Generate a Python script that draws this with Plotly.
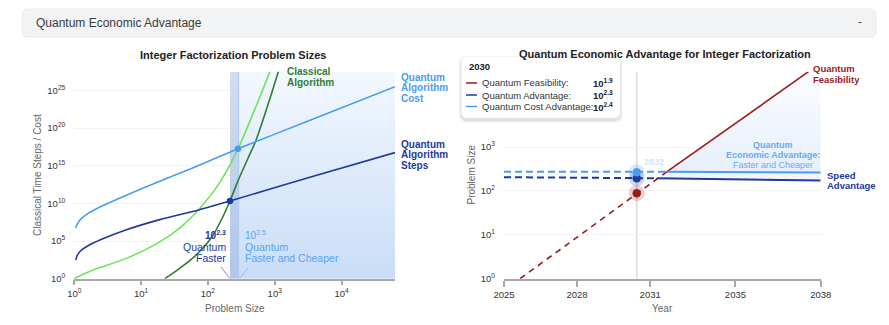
import plotly.graph_objects as go

W, H = 889, 325
FONT = "Liberation Sans, Arial, sans-serif"

def px(x):
    return x / W

def py(y):
    return 1 - y / H

# ---------------- Left chart data (log10 exponents) -------------
cost_lx = [0.02, 0.05, 0.1, 0.2, 0.4, 0.78, 1.28, 1.70, 2.45, 3.5, 4.8]
cost_ly = [6.75, 7.35, 7.95, 8.65, 9.6, 11.1, 12.95, 14.45, 17.25, 20.95, 25.5]

steps_lx = [0.02, 0.05, 0.1, 0.2, 0.4, 0.78, 1.28, 1.85, 2.33, 3.5, 4.8]
steps_ly = [2.5, 3.2, 3.75, 4.35, 5.2, 6.5, 7.85, 9.1, 10.33, 13.4, 16.75]

cls_cost_lx = [0.0, 0.03, 0.28, 0.78, 1.28, 1.6, 1.85, 2.05, 2.2, 2.45, 2.67, 2.95]
cls_cost_ly = [0.0, 0.15, 1.16, 2.7, 4.9, 6.9, 9.05, 11.2, 13.1, 17.25, 21.8, 28.0]

cls_steps_lx = [1.354, 1.55, 1.78, 1.95, 2.07, 2.2, 2.33, 2.45, 2.6, 2.72, 2.88, 3.04, 3.1]
cls_steps_ly = [0.0, 1.2, 2.8, 4.3, 5.7, 7.8, 10.33, 13.0, 16.0, 18.4, 22.6, 27.1, 29.0]

faster_lx = 2.33       # quantum faster threshold (10^2.3)
cheaper_lx = 2.46      # quantum faster and cheaper threshold (10^2.5)
faster_ly = 10.33
cheaper_ly = 17.25

left_xticks = [0, 1, 2, 3, 4]
left_yticks = [0, 5, 10, 15, 20, 25]
left_xrange = [0, 4.8]
left_yrange = [0, 27.5]

# ---------------- Right chart data ----------------
feas_years = [2025.66, 2031.69, 2037.5]
feas_ly = [0.0, 2.44, 4.72]

adv_years = [2025, 2030.45, 2031.27, 2038]
adv_ly = [2.315, 2.29, 2.29, 2.24]

costadv_years = [2025, 2030.45, 2031.69, 2038]
costadv_ly = [2.44, 2.43, 2.44, 2.42]

sel_year = 2030.45
sel_feas_ly = 1.95
sel_adv_ly = 2.29
sel_cost_ly = 2.43

right_xticks = [2025, 2028, 2031, 2034.5, 2038]
right_xticktext = ["2025", "2028", "2031", "2035", "2038"]
right_yticks = [0, 1, 2, 3]
right_yrange = [0, 4.72]

legend_title = "2030"
legend_labels = ["Quantum Feasibility:", "Quantum Advantage:", "Quantum Cost Advantage:"]
legend_values = ["1.9", "2.3", "2.4"]

C_COST = "#4a9cf0"
C_STEPS = "#1e3a9a"
C_LGREEN = "#6ee55a"
C_DGREEN = "#2f7d32"
C_RED = "#9b1c1c"
C_AXIS = "#a8a8a8"

def p10(arr):
    return [10.0 ** float(v) for v in arr]

fig = go.Figure()

# ---------- Left chart ----------
xa, ya = "x", "y"
fig.add_trace(go.Scatter(
    x=p10([faster_lx, left_xrange[1], left_xrange[1], faster_lx, faster_lx]),
    y=p10([left_yrange[0], left_yrange[0], left_yrange[1], left_yrange[1], left_yrange[0]]),
    fill="toself", mode="none",
    fillgradient=dict(type="vertical", colorscale=[[0, "#c9ddf7"], [1, "#f3f8fe"]]),
    hoverinfo="skip", showlegend=False, xaxis=xa, yaxis=ya))
fig.add_trace(go.Scatter(
    x=p10([faster_lx, cheaper_lx, cheaper_lx, faster_lx, faster_lx]),
    y=p10([left_yrange[0], left_yrange[0], left_yrange[1], left_yrange[1], left_yrange[0]]),
    fill="toself", mode="none", fillcolor="rgba(40,60,160,0.15)",
    hoverinfo="skip", showlegend=False, xaxis=xa, yaxis=ya))
fig.add_trace(go.Scatter(
    x=p10([cheaper_lx, cheaper_lx]), y=p10(left_yrange), mode="lines",
    line=dict(color="#a9cbf3", width=1), hoverinfo="skip", showlegend=False, xaxis=xa, yaxis=ya))

for lx, ly, col in [(cls_cost_lx, cls_cost_ly, C_LGREEN), (cls_steps_lx, cls_steps_ly, C_DGREEN),
                    (cost_lx, cost_ly, C_COST), (steps_lx, steps_ly, C_STEPS)]:
    fig.add_trace(go.Scatter(x=p10(lx), y=p10(ly), mode="lines",
                             line=dict(color=col, width=1.6, shape="spline", smoothing=0.7),
                             hoverinfo="skip", showlegend=False, xaxis=xa, yaxis=ya))

fig.add_trace(go.Scatter(x=p10([faster_lx]), y=p10([faster_ly]), mode="markers",
                         marker=dict(color=C_STEPS, size=6.5), showlegend=False, xaxis=xa, yaxis=ya))
fig.add_trace(go.Scatter(x=p10([2.45]), y=p10([cheaper_ly]), mode="markers",
                         marker=dict(color=C_COST, size=6.5), showlegend=False, xaxis=xa, yaxis=ya))

# ---------- Right chart ----------
xb, yb = "x2", "y2"
fig.add_trace(go.Scatter(
    x=[feas_years[1], feas_years[2], 2038, 2038, feas_years[1]],
    y=p10([feas_ly[1], feas_ly[2], right_yrange[1], costadv_ly[-1], feas_ly[1]]),
    fill="toself", mode="none",
    fillgradient=dict(type="vertical", colorscale=[[0, "#e6effb"], [1, "#fbfdff"]]),
    hoverinfo="skip", showlegend=False, xaxis=xb, yaxis=yb))
fig.add_trace(go.Scatter(
    x=[adv_years[2], 2038, 2038, costadv_years[2], adv_years[2]],
    y=p10([adv_ly[2], adv_ly[3], costadv_ly[3], costadv_ly[2], adv_ly[2]]),
    fill="toself", mode="none", fillcolor="rgba(40,60,160,0.06)",
    hoverinfo="skip", showlegend=False, xaxis=xb, yaxis=yb))

fig.add_trace(go.Scatter(x=feas_years[:2], y=p10(feas_ly[:2]), mode="lines",
                         line=dict(color=C_RED, width=1.6, dash="6px,5px"), hoverinfo="skip",
                         showlegend=False, xaxis=xb, yaxis=yb))
fig.add_trace(go.Scatter(x=feas_years[1:], y=p10(feas_ly[1:]), mode="lines",
                         line=dict(color=C_RED, width=1.6), hoverinfo="skip",
                         showlegend=False, xaxis=xb, yaxis=yb))
fig.add_trace(go.Scatter(x=costadv_years[:3], y=p10(costadv_ly[:3]), mode="lines",
                         line=dict(color=C_COST, width=2, dash="7px,4px"), hoverinfo="skip",
                         showlegend=False, xaxis=xb, yaxis=yb))
fig.add_trace(go.Scatter(x=costadv_years[2:], y=p10(costadv_ly[2:]), mode="lines",
                         line=dict(color=C_COST, width=2), hoverinfo="skip",
                         showlegend=False, xaxis=xb, yaxis=yb))
fig.add_trace(go.Scatter(x=adv_years[:3], y=p10(adv_ly[:3]), mode="lines",
                         line=dict(color=C_STEPS, width=2, dash="7px,4px"), hoverinfo="skip",
                         showlegend=False, xaxis=xb, yaxis=yb))
fig.add_trace(go.Scatter(x=adv_years[2:], y=p10(adv_ly[2:]), mode="lines",
                         line=dict(color=C_STEPS, width=2), hoverinfo="skip",
                         showlegend=False, xaxis=xb, yaxis=yb))

for ly, col in [(sel_feas_ly, C_RED), (sel_adv_ly, C_STEPS), (sel_cost_ly, C_COST)]:
    fig.add_trace(go.Scatter(x=[sel_year], y=p10([ly]), mode="markers",
                             marker=dict(color=col, size=16, opacity=0.2), hoverinfo="skip",
                             showlegend=False, xaxis=xb, yaxis=yb))
for ly, col in [(sel_feas_ly, C_RED), (sel_adv_ly, C_STEPS), (sel_cost_ly, C_COST)]:
    fig.add_trace(go.Scatter(x=[sel_year], y=p10([ly]), mode="markers",
                             marker=dict(color=col, size=8.5), hoverinfo="skip",
                             showlegend=False, xaxis=xb, yaxis=yb))

# ---------- Axes ----------
LD = [px(74.3), px(395)]
RD = [px(504), px(820.7)]
YD = [py(278.7), py(71.7)]
tickfont = dict(family=FONT, size=9.5, color="#333")

fig.update_layout(
    template="none",
    xaxis=dict(domain=LD, type="log", range=left_xrange, automargin=False,
               tickvals=p10(left_xticks), ticktext=[f"10<sup>{v}</sup>" for v in left_xticks],
               showline=True, linecolor=C_AXIS, linewidth=1.5, ticks="outside", ticklen=5,
               tickcolor=C_AXIS, tickwidth=1.5, showgrid=False, zeroline=False, tickfont=tickfont,
               anchor="y"),
    yaxis=dict(domain=YD, type="log", range=left_yrange, automargin=False,
               tickvals=p10(left_yticks), ticktext=[f"10<sup>{v}</sup>" for v in left_yticks],
               showline=False, ticks="", showgrid=True, gridcolor="#f3f3f3", zeroline=False,
               tickfont=tickfont, ticklabelstandoff=8, anchor="x"),
    xaxis2=dict(domain=RD, range=[2025, 2038], tickvals=right_xticks, ticktext=right_xticktext,
                automargin=False,
                showline=True, linecolor=C_AXIS, linewidth=2, ticks="outside", ticklen=6,
                tickcolor=C_AXIS, tickwidth=2, showgrid=False, zeroline=False, tickfont=tickfont,
                anchor="y2"),
    yaxis2=dict(domain=YD, type="log", range=right_yrange, automargin=False,
                tickvals=p10(right_yticks), ticktext=[f"10<sup>{v}</sup>" for v in right_yticks],
                showline=False, ticks="", showgrid=True, gridcolor="#f3f3f3", zeroline=False,
                tickfont=tickfont, ticklabelstandoff=8, anchor="x2"),
    width=W, height=H, margin=dict(l=0, r=0, t=0, b=0, pad=0),
    paper_bgcolor="white", plot_bgcolor="white", showlegend=False,
    font=dict(family=FONT),
)

shapes = []

def rrect_path(x0, y0, x1, y1, r):
    pts = lambda x, y: f"{px(x):.5f},{py(y):.5f}"
    return (f"M {pts(x0 + r, y0)} L {pts(x1 - r, y0)} Q {pts(x1, y0)} {pts(x1, y0 + r)} "
            f"L {pts(x1, y1 - r)} Q {pts(x1, y1)} {pts(x1 - r, y1)} L {pts(x0 + r, y1)} "
            f"Q {pts(x0, y1)} {pts(x0, y1 - r)} L {pts(x0, y0 + r)} Q {pts(x0, y0)} {pts(x0 + r, y0)} Z")

shapes.append(dict(type="path", xref="paper", yref="paper", path=rrect_path(22, 9, 876, 37, 6),
                   fillcolor="#f2f3f5", line=dict(color="#e9eaec", width=1), layer="below"))
shapes.append(dict(type="line", xref="x2", yref="y2 domain", x0=sel_year, x1=sel_year, y0=0, y1=1,
                   line=dict(color="#e2e2e2", width=2), layer="below"))
shapes.append(dict(type="line", xref="paper", yref="paper", x0=px(221), y0=py(267), x1=px(229.5), y1=py(278.3),
                   line=dict(color="#7b8cc7", width=1)))
shapes.append(dict(type="line", xref="paper", yref="paper", x0=px(248.5), y0=py(267), x1=px(240), y1=py(278.3),
                   line=dict(color="#8fc0f2", width=1)))
for i, a in enumerate([0.03, 0.04, 0.05]):
    d = 3 - i
    shapes.append(dict(type="path", xref="paper", yref="paper",
                       path=rrect_path(461.5 - d, 57 - d + 2, 620 + d, 118 + d + 2, 7),
                       fillcolor=f"rgba(0,0,0,{a})", line=dict(width=0), layer="above"))
shapes.append(dict(type="path", xref="paper", yref="paper", path=rrect_path(461.5, 57, 620, 118, 6),
                   fillcolor="white", line=dict(color="#eeeeee", width=0.5), layer="above"))
legend_cols = [C_RED, C_STEPS, C_COST]
row_y = [83, 95, 106.5]
for col, ry in zip(legend_cols, row_y):
    shapes.append(dict(type="line", xref="paper", yref="paper", x0=px(466), x1=px(477), y0=py(ry), y1=py(ry),
                       line=dict(color=col, width=1.5), layer="above"))
fig.update_layout(shapes=shapes)

ann = []

def text(s, x, y, color="#333", size=10, bold=False, xanchor="left", yanchor="middle", angle=0):
    if bold:
        s = f"<b>{s}</b>"
    ann.append(dict(text=s, x=px(x), y=py(y), xref="paper", yref="paper", showarrow=False,
                    xanchor=xanchor, yanchor=yanchor, textangle=angle,
                    font=dict(family=FONT, size=size, color=color)))

def lines(ls, x, y0, dy, **kw):
    for i, s in enumerate(ls):
        text(s, x, y0 + i * dy, **kw)

text("Quantum Economic Advantage", 34, 23, color="#3a3a3a", size=12)
text("-", 860, 22, color="#555", size=12, xanchor="center")
text("Integer Factorization Problem Sizes", 233, 54.5, color="#222", size=11, bold=True, xanchor="center")
text("Quantum Economic Advantage for Integer Factorization", 665, 53.5, color="#222", size=11, bold=True,
     xanchor="center")
text("Problem Size", 235, 308.5, color="#666", size=10, xanchor="center")
text("Year", 662.3, 308.5, color="#666", size=10, xanchor="center")
text("Classical Time Steps / Cost", 37, 175, color="#666", size=10, xanchor="center", angle=-90)
text("Problem Size", 470.5, 175, color="#666", size=10, xanchor="center", angle=-90)

lines(["Classical", "Algorithm"], 285, 71.5, 11, color=C_DGREEN, size=10, bold=True)
lines(["Quantum", "Algorithm", "Cost"], 399, 77, 10.5, color=C_COST, size=10, bold=True)
lines(["Quantum", "Algorithm", "Steps"], 399, 144, 10.5, color=C_STEPS, size=10, bold=True)
text("10<sup>2.3</sup>", 228, 235, color=C_STEPS, size=10, bold=True, xanchor="right")
lines(["Quantum", "Faster"], 228, 247.3, 11, color=C_STEPS, size=10.5, xanchor="right")
text("10<sup>2.5</sup>", 243, 235, color="#5aa3ef", size=10, xanchor="left")
lines(["Quantum", "Faster and Cheaper"], 243, 247.3, 11, color="#5aa3ef", size=10.5, xanchor="left")

lines(["Quantum", "Feasibility"], 811, 68.5, 10.5, color=C_RED, size=9.5, bold=True)
lines(["Speed", "Advantage"], 825, 175, 10.5, color=C_STEPS, size=9.5, bold=True)
lines(["Quantum", "Economic Advantage:"], 773, 144.5, 10, color="#6aaaf0", size=9, bold=True,
      xanchor="center")
text("Faster and Cheaper", 773, 164.5, color="#6aaaf0", size=9, xanchor="center")
text("2032", 654, 162, color="#d2e4f8", size=9, bold=True, xanchor="center")

text(legend_title, 467, 66.5, color="#222", size=9.5, bold=True)
for lab, val, ry in zip(legend_labels, legend_values, row_y):
    text(lab, 480, ry, color="#333", size=9.5)
    text(f"10<sup>{val}</sup>", 591, ry, color="#222", size=9.5, bold=True)

fig.update_layout(annotations=ann)
fig.write_html("out.html")
